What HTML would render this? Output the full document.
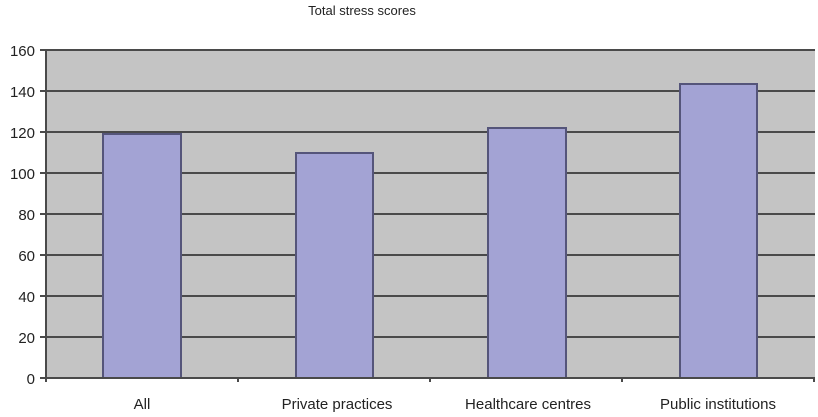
<!DOCTYPE html><html><head><style>body{margin:0;background:#fff}svg{display:block}</style></head><body>
<svg width="818" height="417" xmlns="http://www.w3.org/2000/svg" font-family="Liberation Sans, sans-serif">
<text x="362" y="15" font-size="13" text-anchor="middle" fill="#222">Total stress scores</text>
<rect x="46" y="50" width="769" height="328" fill="#c4c4c4"/>
<g stroke="#4a4a4a" stroke-width="2">
<line x1="40" y1="50" x2="815" y2="50"/><line x1="40" y1="91" x2="815" y2="91"/><line x1="40" y1="132" x2="815" y2="132"/><line x1="40" y1="173" x2="815" y2="173"/><line x1="40" y1="214" x2="815" y2="214"/><line x1="40" y1="255" x2="815" y2="255"/><line x1="40" y1="296" x2="815" y2="296"/><line x1="40" y1="337" x2="815" y2="337"/>
</g>
<g fill="#a3a3d4" stroke="#55557a" stroke-width="2">
<rect x="103" y="134" width="78" height="244"/>
<rect x="296" y="153" width="77" height="225"/>
<rect x="488" y="128" width="78" height="250"/>
<rect x="680" y="84" width="77" height="294"/>
</g>
<g stroke="#4a4a4a" stroke-width="2">
<line x1="46" y1="50" x2="46" y2="382"/><line x1="40" y1="378" x2="815" y2="378"/>
<line x1="238" y1="378" x2="238" y2="382"/><line x1="430" y1="378" x2="430" y2="382"/><line x1="622" y1="378" x2="622" y2="382"/><line x1="814" y1="378" x2="814" y2="382"/>
</g>
<g font-size="15" fill="#222" text-anchor="end">
<text x="35" y="56">160</text><text x="35" y="97">140</text><text x="35" y="138">120</text><text x="35" y="179">100</text><text x="35" y="220">80</text><text x="35" y="261">60</text><text x="35" y="302">40</text><text x="35" y="343">20</text><text x="35" y="384">0</text>
</g>
<g font-size="15" fill="#222" text-anchor="middle">
<text x="142" y="409">All</text><text x="337" y="409">Private practices</text><text x="528" y="409">Healthcare centres</text><text x="718" y="409">Public institutions</text>
</g>
</svg></body></html>
